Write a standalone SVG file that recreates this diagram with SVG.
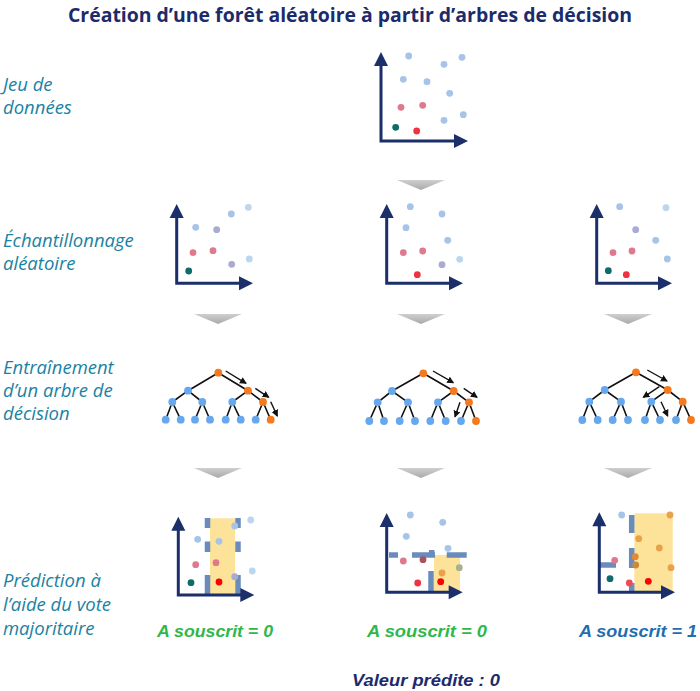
<svg xmlns="http://www.w3.org/2000/svg" width="700" height="691" viewBox="0 0 700 691">
<defs>
<linearGradient id="gg" x1="0" y1="0" x2="0" y2="1"><stop offset="0" stop-color="#cfcfcf"/><stop offset="1" stop-color="#a9a9a9"/></linearGradient>
<marker id="ta" markerUnits="userSpaceOnUse" markerWidth="8" markerHeight="8" refX="6" refY="3.5" orient="auto"><path d="M0,0 L7,3.5 L0,7 z" fill="#111"/></marker>
</defs>
<style>
.title{font-family:"Open Sans","Liberation Sans",sans-serif;font-weight:bold;font-size:19px;fill:#1c2b6b;}
.lab{font-family:"Open Sans","Liberation Sans",sans-serif;font-style:italic;font-size:18.5px;fill:#1a82a3;}
.res{font-family:"Liberation Sans",sans-serif;font-style:italic;font-weight:bold;font-size:17px;}
.ax{fill:none;stroke:#1b2f6b;stroke-width:3;}
.ah{fill:#1b2f6b;}
.down{fill:url(#gg);}
.lb{fill:#a5c4e7;}
.vlb{fill:#bcd6ee;}
.pu{fill:#aaabd2;}
.pk{fill:#df7a8c;}
.tl{fill:#0d6b69;}
.rd{fill:#ef3242;}
.br{fill:#ff0000;}
.or{fill:#e8a24a;}
.od{fill:#e38a30;}
.e{stroke:#111;stroke-width:1.6;fill:none;}
.nb{fill:#66a7ee;}
.no{fill:#f5791f;}
.ta{stroke:#111;stroke-width:1.4;marker-end:url(#ta);}
.yel{fill:#fddf8e;opacity:0.9;}
.bl{stroke:#5a80b6;stroke-width:5.5;opacity:0.9;fill:none;}
</style>

<text class="title" x="350" y="22" text-anchor="middle" textLength="564" lengthAdjust="spacingAndGlyphs">Création d’une forêt aléatoire à partir d’arbres de décision</text>

<g id="labels">
<text class="lab" x="3" y="91">Jeu de</text>
<text class="lab" x="3" y="114">données</text>
<text class="lab" x="3" y="247">Échantillonnage</text>
<text class="lab" x="3" y="270">aléatoire</text>
<text class="lab" x="3" y="374">Entraînement</text>
<text class="lab" x="3" y="397">d’un arbre de</text>
<text class="lab" x="3" y="420">décision</text>
<text class="lab" x="3" y="587">Prédiction à</text>
<text class="lab" x="3" y="611">l’aide du vote</text>
<text class="lab" x="3" y="635">majoritaire</text>
</g>

<g id="connectors">
<polygon class="down" points="397,180 445,180 421,190"/>
<polygon class="down" points="194,314 242,314 218,324"/>
<polygon class="down" points="397,314 445,314 421,324"/>
<polygon class="down" points="604,314 652,314 628,324"/>
<polygon class="down" points="194,468 242,468 218,478"/>
<polygon class="down" points="397,468 445,468 421,478"/>
<polygon class="down" points="604,468 652,468 628,478"/>
</g>

<g id="dataset">
<path class="ax" d="M381,64 V141 H456"/>
<polygon class="ah" points="374,66 381,52 388,66"/>
<polygon class="ah" points="454,134 468,141 454,148"/>
<circle class="lb" cx="408.7" cy="56" r="3.4"/>
<circle class="lb" cx="444" cy="64.3" r="3.4"/>
<circle class="lb" cx="462" cy="57.3" r="3.4"/>
<circle class="lb" cx="403.3" cy="79.3" r="3.4"/>
<circle class="lb" cx="427" cy="81.7" r="3.4"/>
<circle class="lb" cx="449.7" cy="93.3" r="3.4"/>
<circle class="pk" cx="401" cy="107.3" r="3.4"/>
<circle class="pk" cx="422.7" cy="105.3" r="3.4"/>
<circle class="lb" cx="444" cy="120.3" r="3.4"/>
<circle class="lb" cx="463.3" cy="114.7" r="3.4"/>
<circle class="tl" cx="395.7" cy="127.3" r="3.4"/>
<circle class="rd" cx="416.7" cy="131" r="3.4"/>
</g>

<g id="sample1">
<path class="ax" d="M176.7,216 V283.3 H241"/>
<polygon class="ah" points="169.7,218 176.7,204 183.7,218"/>
<polygon class="ah" points="239,276.3 253,283.3 239,290.3"/>
<circle class="vlb" cx="248.3" cy="207.3" r="3.4"/>
<circle class="lb" cx="231.3" cy="214" r="3.4"/>
<circle class="lb" cx="195.7" cy="227.3" r="3.4"/>
<circle class="pu" cx="216.7" cy="229.7" r="3.4"/>
<circle class="pk" cx="193" cy="252.7" r="3.4"/>
<circle class="pk" cx="213" cy="250.7" r="3.4"/>
<circle class="pu" cx="231.7" cy="264.3" r="3.4"/>
<circle class="vlb" cx="249.3" cy="259" r="3.4"/>
<circle class="tl" cx="188.7" cy="271" r="3.4"/>
</g>

<g id="sample2">
<path class="ax" d="M386.7,216 V283.3 H451"/>
<polygon class="ah" points="379.7,218 386.7,204 393.7,218"/>
<polygon class="ah" points="449,276.3 463,283.3 449,290.3"/>
<circle class="lb" cx="410.3" cy="206.7" r="3.4"/>
<circle class="lb" cx="442" cy="214" r="3.4"/>
<circle class="lb" cx="406" cy="227.7" r="3.4"/>
<circle class="lb" cx="447.7" cy="240.3" r="3.4"/>
<circle class="pk" cx="403.3" cy="252.7" r="3.4"/>
<circle class="pk" cx="422.7" cy="251" r="3.4"/>
<circle class="pu" cx="442" cy="264.7" r="3.4"/>
<circle class="vlb" cx="459.7" cy="259.3" r="3.4"/>
<circle class="rd" cx="417.3" cy="274.7" r="3.4"/>
</g>

<g id="sample3">
<path class="ax" d="M596.7,216 V283.3 H660"/>
<polygon class="ah" points="589.7,218 596.7,204 603.7,218"/>
<polygon class="ah" points="658,276.3 672,283.3 658,290.3"/>
<circle class="lb" cx="619.7" cy="206.7" r="3.4"/>
<circle class="vlb" cx="666" cy="207.7" r="3.4"/>
<circle class="pu" cx="635.7" cy="229.7" r="3.4"/>
<circle class="lb" cx="655.7" cy="240.3" r="3.4"/>
<circle class="pk" cx="613" cy="252.7" r="3.4"/>
<circle class="pk" cx="632" cy="251" r="3.4"/>
<circle class="lb" cx="667.3" cy="259" r="3.4"/>
<circle class="tl" cx="608.3" cy="270.7" r="3.4"/>
<circle class="rd" cx="626.3" cy="274.7" r="3.4"/>
</g>

<g id="tree1">
<path class="e" d="M218.3,372.7 L188,390.7 M218.3,372.7 L248,390.7 M188,390.7 L172.3,402 M188,390.7 L202.3,402 M248,390.7 L232.3,402 M248,390.7 L263,402 M172.3,402 L165.7,419.7 M172.3,402 L180.7,419.7 M202.3,402 L195,419.7 M202.3,402 L210,419.7 M232.3,402 L225.7,419.7 M232.3,402 L240.7,419.7 M263,402 L255.7,419.7 M263,402 L270.7,419.7"/>
<circle class="no" cx="218.3" cy="372.7" r="3.9"/>
<circle class="nb" cx="188" cy="390.7" r="3.9"/>
<circle class="no" cx="248" cy="390.7" r="3.9"/>
<circle class="nb" cx="172.3" cy="402" r="3.9"/>
<circle class="nb" cx="202.3" cy="402" r="3.9"/>
<circle class="nb" cx="232.3" cy="402" r="3.9"/>
<circle class="no" cx="263" cy="402" r="3.9"/>
<circle class="nb" cx="165.7" cy="419.7" r="3.9"/>
<circle class="nb" cx="180.7" cy="419.7" r="3.9"/>
<circle class="nb" cx="195" cy="419.7" r="3.9"/>
<circle class="nb" cx="210" cy="419.7" r="3.9"/>
<circle class="nb" cx="225.7" cy="419.7" r="3.9"/>
<circle class="nb" cx="240.7" cy="419.7" r="3.9"/>
<circle class="nb" cx="255.7" cy="419.7" r="3.9"/>
<circle class="no" cx="270.7" cy="419.7" r="3.9"/>
<line class="ta" x1="225.7" y1="371" x2="246" y2="383.3"/>
<line class="ta" x1="255.3" y1="388.3" x2="268.7" y2="397.3"/>
<line class="ta" x1="270.7" y1="401.7" x2="277.3" y2="416"/>
</g>

<g id="tree2">
<path class="e" d="M423.3,373.3 L392,391 M423.3,373.3 L453.7,391 M392,391 L377.7,402.3 M392,391 L408,402.3 M453.7,391 L438,402.3 M453.7,391 L469,402.3 M377.7,402.3 L369.3,421 M377.7,402.3 L384,421 M408,402.3 L399.7,421 M408,402.3 L415,421 M438,402.3 L430.3,421 M438,402.3 L445.7,421 M469,402.3 L461,421 M469,402.3 L476,421"/>
<circle class="no" cx="423.3" cy="373.3" r="3.9"/>
<circle class="nb" cx="392" cy="391" r="3.9"/>
<circle class="no" cx="453.7" cy="391" r="3.9"/>
<circle class="nb" cx="377.7" cy="402.3" r="3.9"/>
<circle class="nb" cx="408" cy="402.3" r="3.9"/>
<circle class="nb" cx="438" cy="402.3" r="3.9"/>
<circle class="no" cx="469" cy="402.3" r="3.9"/>
<circle class="nb" cx="369.3" cy="421" r="3.9"/>
<circle class="nb" cx="384" cy="421" r="3.9"/>
<circle class="nb" cx="399.7" cy="421" r="3.9"/>
<circle class="nb" cx="415" cy="421" r="3.9"/>
<circle class="nb" cx="430.3" cy="421" r="3.9"/>
<circle class="nb" cx="445.7" cy="421" r="3.9"/>
<circle class="nb" cx="461" cy="421" r="3.9"/>
<circle class="no" cx="476" cy="421" r="3.9"/>
<line class="ta" x1="433" y1="371" x2="453.3" y2="382.7"/>
<line class="ta" x1="463.7" y1="388.3" x2="477" y2="397.3"/>
<line class="ta" x1="460" y1="402.3" x2="455" y2="416.7"/>
</g>

<g id="tree3">
<path class="e" d="M636,372.3 L604.7,390 M636,372.3 L667.7,390 M604.7,390 L589.3,401.7 M604.7,390 L621,401.7 M667.7,390 L651.3,401.7 M667.7,390 L682.7,401.7 M589.3,401.7 L582.3,420 M589.3,401.7 L597.7,420 M621,401.7 L612.7,420 M621,401.7 L628,420 M651.3,401.7 L645,420 M651.3,401.7 L660,420 M682.7,401.7 L676,420 M682.7,401.7 L691,420"/>
<circle class="no" cx="636" cy="372.3" r="3.9"/>
<circle class="nb" cx="604.7" cy="390" r="3.9"/>
<circle class="no" cx="667.7" cy="390" r="3.9"/>
<circle class="nb" cx="589.3" cy="401.7" r="3.9"/>
<circle class="nb" cx="621" cy="401.7" r="3.9"/>
<circle class="nb" cx="651.3" cy="401.7" r="3.9"/>
<circle class="no" cx="682.7" cy="401.7" r="3.9"/>
<circle class="nb" cx="582.3" cy="420" r="3.9"/>
<circle class="nb" cx="597.7" cy="420" r="3.9"/>
<circle class="nb" cx="612.7" cy="420" r="3.9"/>
<circle class="nb" cx="628" cy="420" r="3.9"/>
<circle class="nb" cx="645" cy="420" r="3.9"/>
<circle class="nb" cx="660" cy="420" r="3.9"/>
<circle class="nb" cx="676" cy="420" r="3.9"/>
<circle class="no" cx="691" cy="420" r="3.9"/>
<line class="ta" x1="647.3" y1="370" x2="667" y2="381"/>
<line class="ta" x1="659.3" y1="386.7" x2="643.3" y2="397.3"/>
<line class="ta" x1="661" y1="401.7" x2="667.7" y2="416"/>
</g>

<g id="predict1">
<rect class="yel" x="210" y="518.3" width="25" height="76.7"/>
<path class="bl" d="M207.5,518 V528 M207.5,541.5 V552 M207.5,575 V594 M238,518 V528 M238,541.5 V552 M238,575 V594"/>
<path class="ax" d="M178.3,529 V595 H242.5"/>
<polygon class="ah" points="171.3,530.7 178.3,516.7 185.3,530.7"/>
<polygon class="ah" points="240.3,588 254.3,595 240.3,602"/>
<circle class="vlb" cx="250.7" cy="520" r="3.4"/>
<circle class="lb" cx="234.7" cy="526" r="3.4"/>
<circle class="lb" cx="197.7" cy="539.3" r="3.4"/>
<circle class="lb" cx="219" cy="541.3" r="3.4"/>
<circle class="pk" cx="195.7" cy="564.7" r="3.4"/>
<circle class="pk" cx="216" cy="562.7" r="3.4"/>
<circle class="pu" cx="234.7" cy="576.7" r="3.4"/>
<circle class="vlb" cx="252.3" cy="571" r="3.4"/>
<circle class="tl" cx="191" cy="582.7" r="3.4"/>
<circle class="br" cx="219" cy="582" r="3.4"/>
</g>

<g id="predict2">
<rect class="yel" x="434" y="555" width="26" height="37.3"/>
<path class="bl" d="M389,555 H398 M412,555 H435 M446.7,555 H466.7 M431.7,550 V555 M431,571 V591"/>
<path class="ax" d="M386.7,526 V592.3 H451"/>
<polygon class="ah" points="379.7,527 386.7,513 393.7,527"/>
<polygon class="ah" points="448.7,585.3 462.7,592.3 448.7,599.3"/>
<circle class="lb" cx="410.3" cy="515" r="3.4"/>
<circle class="lb" cx="442.7" cy="522.3" r="3.4"/>
<circle class="lb" cx="406.3" cy="536.3" r="3.4"/>
<circle class="lb" cx="448" cy="548.3" r="3.4"/>
<circle class="pk" cx="403.3" cy="561" r="3.4"/>
<circle fill="#a8545f" cx="423" cy="559.7" r="3.4"/>
<circle fill="#a9b18a" cx="459.3" cy="567.7" r="3.4"/>
<circle class="or" cx="442" cy="573" r="3.4"/>
<circle class="br" cx="440.7" cy="581.7" r="3.4"/>
<circle class="rd" cx="417.7" cy="583" r="3.4"/>
</g>

<g id="predict3">
<rect class="yel" x="634.3" y="513.3" width="38.4" height="79"/>
<path class="bl" d="M631.7,515 V533 M631.7,548 V568 M631.7,583 V592 M599,565 H616"/>
<path class="ax" d="M599.3,525 V592.3 H663"/>
<polygon class="ah" points="592.3,526.3 599.3,512.3 606.3,526.3"/>
<polygon class="ah" points="661,585.3 675,592.3 661,599.3"/>
<circle class="lb" cx="621.7" cy="515" r="3.4"/>
<circle class="or" cx="670" cy="515" r="3.4"/>
<circle class="or" cx="638.7" cy="538.7" r="3.4"/>
<circle class="or" cx="659.3" cy="548" r="3.4"/>
<circle class="od" cx="635.3" cy="556.7" r="3.4"/>
<circle class="pk" cx="614.7" cy="560.3" r="3.4"/>
<circle fill="#c98a3a" cx="635.7" cy="565" r="3.4"/>
<circle class="or" cx="671" cy="567.7" r="3.4"/>
<circle class="tl" cx="610" cy="578.7" r="3.4"/>
<circle fill="#ec4a5a" cx="629.3" cy="583" r="3.4"/>
<circle class="br" cx="648.3" cy="581.3" r="3.4"/>
</g>

<g id="results">
<text class="res" x="215" y="637" text-anchor="middle" fill="#2eb84b" textLength="116" lengthAdjust="spacingAndGlyphs">A souscrit = 0</text>
<text class="res" x="427" y="637" text-anchor="middle" fill="#2eb84b" textLength="120" lengthAdjust="spacingAndGlyphs">A souscrit = 0</text>
<text class="res" x="638" y="637" text-anchor="middle" fill="#1f6db0" textLength="118" lengthAdjust="spacingAndGlyphs">A souscrit = 1</text>
<text class="res" x="426" y="686" text-anchor="middle" fill="#1c2b6b" textLength="148" lengthAdjust="spacingAndGlyphs">Valeur prédite : 0</text>
</g>
</svg>
